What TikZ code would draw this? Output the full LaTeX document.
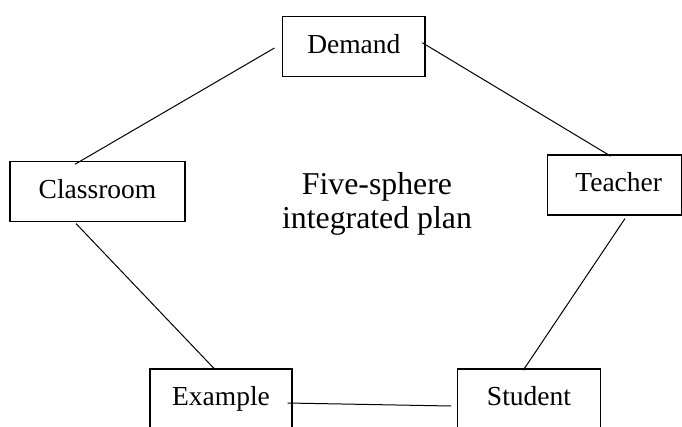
\documentclass[tikz,border=0pt]{standalone}
\usepackage{fontspec}
\setmainfont{Liberation Serif}
\usetikzlibrary{calc}
\begin{document}
\begin{tikzpicture}[x=1pt,y=-1pt,
  box/.style={draw=black, line width=1.1pt, minimum height=60pt, inner sep=0pt,
    font=\fontsize{27.5pt}{30pt}\selectfont, text height=20pt, text depth=6.4pt},
  link/.style={draw=black, line width=1pt},
  centre/.style={align=center, font=\fontsize{31.8pt}{33.5pt}\selectfont}]
\useasboundingbox (0,0) rectangle (682,426);
\node[box, minimum width=142.3pt] (dem) at (353.85,46.7) {Demand};
\node[box, minimum width=175pt]   (cls) at (97.5,191.5) {Classroom};
\node[box, minimum width=134pt]   (tch) at (614.7,185) {\hspace{8pt}Teacher};
\node[box, minimum width=142pt]   (exa) at (221,399) {Example};
\node[box, minimum width=142.6pt] (stu) at (529,399) {Student};
\node[centre] (mid) at (377,204) {Five-sphere\\integrated plan};
\coordinate (d1) at ($(dem.west)+(-7.7,1.3)$);
\coordinate (c1) at ($(cls.north)+(-22.5,3.3)$);
\coordinate (d2) at ($(dem.east)+(-3.3,-4)$);
\coordinate (t1) at ($(tch.north)+(-4,1.7)$);
\coordinate (c2) at ($(cls.south)+(-21.5,1.5)$);
\coordinate (e1) at ($(exa.north)+(-7,0)$);
\coordinate (t2) at ($(tch.south)+(10.3,3)$);
\coordinate (s1) at ($(stu.north)+(-5.7,1.7)$);
\coordinate (e2) at ($(exa.east)+(-5,4)$);
\coordinate (s2) at ($(stu.west)+(-6,7)$);
\draw[link] (d1) -- (c1);
\draw[link] (d2) -- (t1);
\draw[link] (c2) -- (e1);
\draw[link] (t2) -- (s1);
\draw[link] (e2) -- (s2);
\end{tikzpicture}
\end{document}
